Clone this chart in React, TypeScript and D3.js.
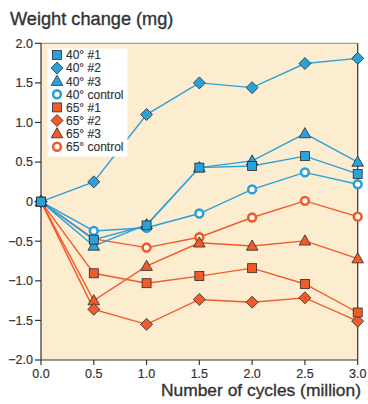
import React from "react";
import * as d3 from "d3";

const cycles = [0, 0.5, 1.0, 1.5, 2.0, 2.5, 3.0];
const s40_1 = [0, -0.48, -0.3, 0.43, 0.45, 0.575, 0.35];
const s40_2 = [0, 0.25, 1.1, 1.5, 1.44, 1.745, 1.81];
const s40_3 = [0, -0.56, -0.29, 0.43, 0.515, 0.86, 0.5];
const s40_c = [0, -0.37, -0.33, -0.15, 0.155, 0.37, 0.22];
const s65_1 = [0, -0.905, -1.03, -0.94, -0.84, -1.04, -1.4];
const s65_2 = [0, -1.36, -1.55, -1.235, -1.27, -1.215, -1.51];
const s65_3 = [0, -1.25, -0.815, -0.52, -0.56, -0.495, -0.72];
const s65_c = [0, -0.47, -0.58, -0.45, -0.2, 0.01, -0.19];
const yTicks = [-2.0, -1.5, -1.0, -0.5, 0, 0.5, 1.0, 1.5, 2.0];
const xTicks = [0, 0.5, 1.0, 1.5, 2.0, 2.5, 3.0];

const BLUE = "#2ba1da";
const ORANGE = "#f15a29";

type Series = { name: string; values: number[]; color: string; shape: string };
const series: Series[] = [
  { name: "40° #1", values: s40_1, color: BLUE, shape: "square" },
  { name: "40° #2", values: s40_2, color: BLUE, shape: "diamond" },
  { name: "40° #3", values: s40_3, color: BLUE, shape: "triangle" },
  { name: "40° control", values: s40_c, color: BLUE, shape: "circle" },
  { name: "65° #1", values: s65_1, color: ORANGE, shape: "square" },
  { name: "65° #2", values: s65_2, color: ORANGE, shape: "diamond" },
  { name: "65° #3", values: s65_3, color: ORANGE, shape: "triangle" },
  { name: "65° control", values: s65_c, color: ORANGE, shape: "circle" },
];

const FONT = "'Liberation Sans', Arial, Helvetica, sans-serif";

function Marker({ shape, color, x, y }: { shape: string; color: string; x: number; y: number }) {
  const edge = "#2b2b2b";
  if (shape === "square")
    return <rect x={x - 4.5} y={y - 4.5} width={9} height={9} fill={color} stroke={edge} strokeWidth={0.8} />;
  if (shape === "diamond")
    return (
      <path
        d={`M${x},${y - 6}L${x + 6},${y}L${x},${y + 6}L${x - 6},${y}Z`}
        fill={color}
        stroke={edge}
        strokeWidth={0.8}
      />
    );
  if (shape === "triangle")
    return (
      <path
        d={`M${x},${y - 6}L${x + 5.8},${y + 4.2}L${x - 5.8},${y + 4.2}Z`}
        fill={color}
        stroke={edge}
        strokeWidth={0.8}
      />
    );
  return <circle cx={x} cy={y} r={3.9} fill="#fff" stroke={color} strokeWidth={2.6} />;
}

export default function App() {
  const W = 368, H = 404;
  const left = 41, right = 357.7, top = 43.3, bottom = 360;
  const x = d3.scaleLinear().domain([0, 3]).range([left, right]);
  const y = d3.scaleLinear().domain([-2, 2]).range([bottom, top]);
  const line = d3
    .line<number>()
    .x((_, i) => x(cycles[i]))
    .y((d) => y(d));

  const drawOrder = [...series].reverse();
  const heavy = { stroke: "#333", strokeWidth: 0.35 };

  return (
    <svg
      width={W}
      height={H}
      style={{ position: "absolute", left: 0, top: 0, background: "#fff" }}
      fontFamily={FONT}
    >
      <rect x={left} y={top} width={right - left} height={bottom - top} fill="#fdedd0" />
      <line x1={left} x2={right} y1={top} y2={top} stroke="#8a8a8a" strokeWidth={1} />
      <line x1={right} x2={right} y1={top} y2={bottom} stroke="#333" strokeWidth={1.2} />
      <line x1={left} x2={left} y1={top} y2={bottom} stroke="#333" strokeWidth={1.2} />
      <line x1={left} x2={right} y1={bottom} y2={bottom} stroke="#333" strokeWidth={1.2} />
      {yTicks.map((t) => (
        <g key={"y" + t}>
          <line x1={left - 6} x2={left} y1={y(t)} y2={y(t)} stroke="#333" strokeWidth={1.2} />
          <text x={left - 8} y={y(t) + 4.3} textAnchor="end" fontSize={12.5} fill="#333" {...heavy} strokeWidth={0.2}>
            {t === 0 ? "0" : d3.format(".1f")(t).replace("-", "\u2212")}
          </text>
        </g>
      ))}
      {xTicks.map((t) => (
        <g key={"x" + t}>
          <line x1={x(t)} x2={x(t)} y1={bottom} y2={bottom + 5} stroke="#333" strokeWidth={1.2} />
          <text x={x(t)} y={bottom + 17.5} textAnchor="middle" fontSize={12.5} fill="#333" {...heavy} strokeWidth={0.2}>
            {d3.format(".1f")(t)}
          </text>
        </g>
      ))}
      <text x={10} y={25} fontSize={18.2} fill="#333" {...heavy}>
        Weight change (mg)
      </text>
      <text x={361} y={396} textAnchor="end" fontSize={17.4} fill="#333" {...heavy}>
        Number of cycles (million)
      </text>
      {drawOrder.map((s) => (
        <path key={"l" + s.name} d={line(s.values) || ""} fill="none" stroke={s.color} strokeWidth={1.4} />
      ))}
      {drawOrder.map((s) => (
        <g key={"m" + s.name}>
          {s.values.map((v, i) => (
            <Marker key={i} shape={s.shape} color={s.color} x={x(cycles[i])} y={y(v)} />
          ))}
        </g>
      ))}
      <rect x={47.5} y={48.5} width={80} height={108} fill="#fff" />
      {series.map((s, i) => (
        <g key={"lg" + s.name}>
          <Marker shape={s.shape} color={s.color} x={57} y={55 + i * 13.1} />
          <text x={66} y={55 + i * 13.1 + 4.3} fontSize={12} fill="#333" {...heavy} strokeWidth={0.15}>
            {s.name}
          </text>
        </g>
      ))}
    </svg>
  );
}
